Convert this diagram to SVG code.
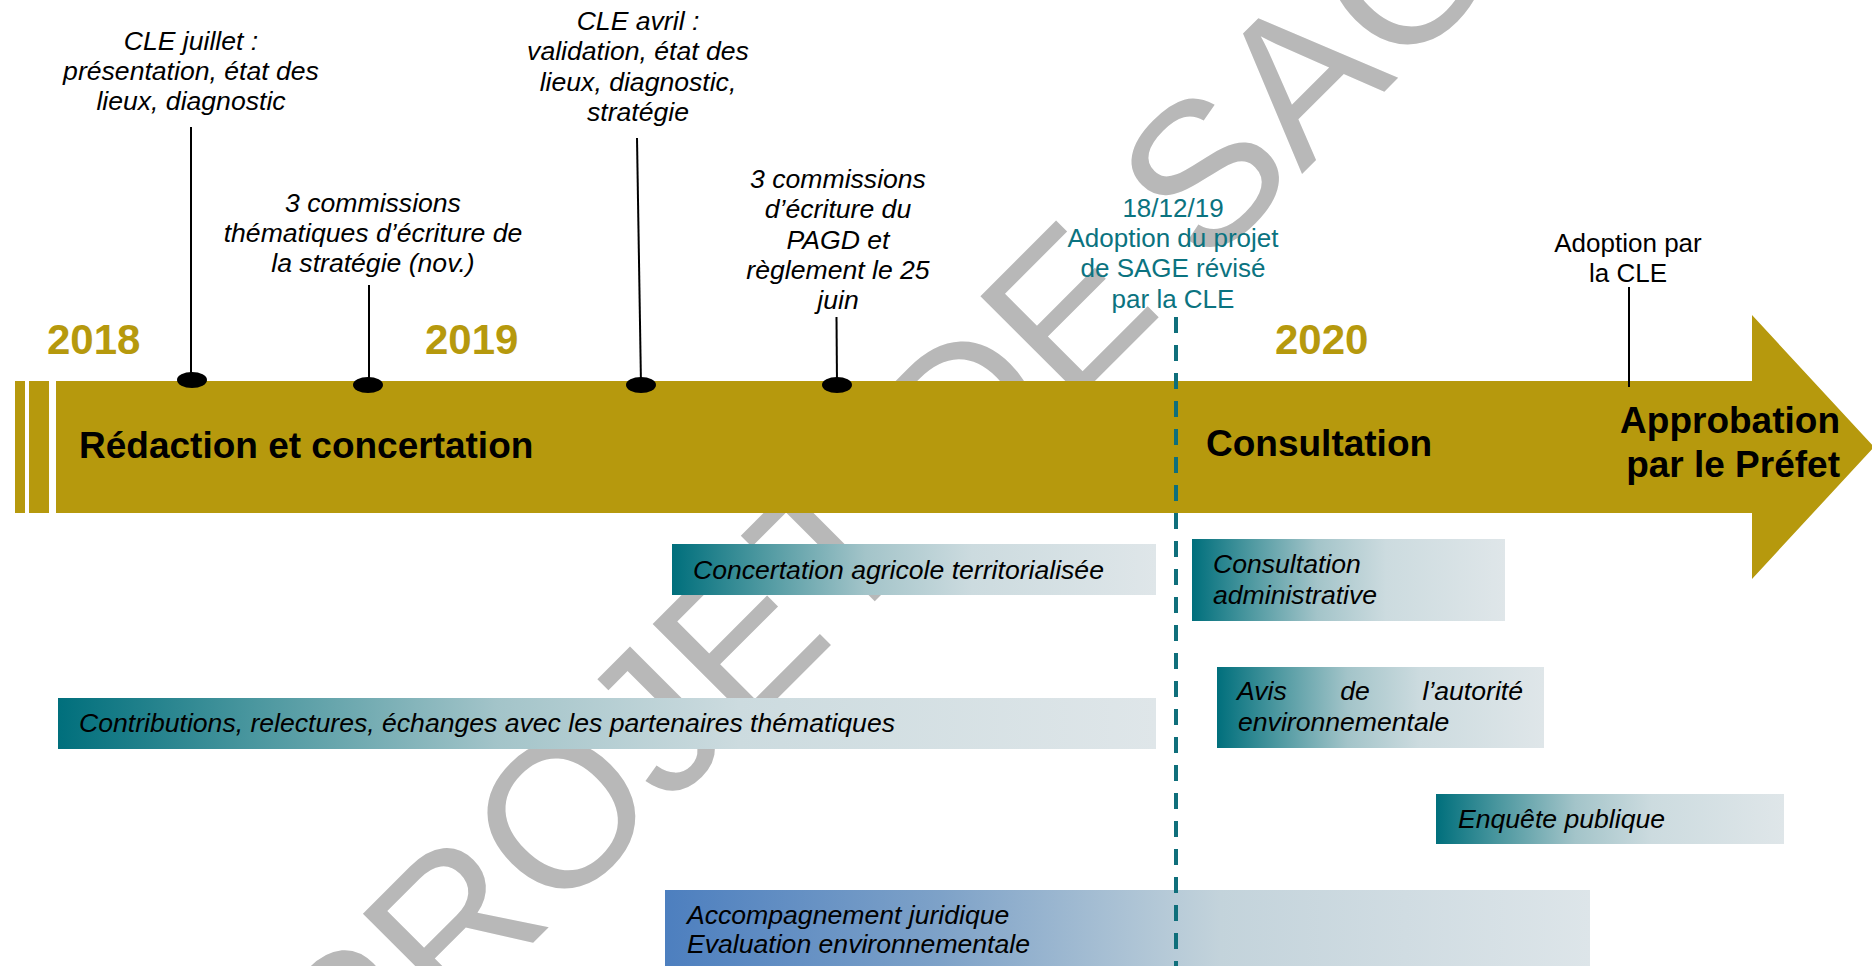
<svg xmlns="http://www.w3.org/2000/svg" width="1872" height="966" viewBox="0 0 1872 966">
<defs>
  <linearGradient id="gTeal" x1="0" y1="0" x2="1" y2="0">
    <stop offset="0" stop-color="#006f7c"/>
    <stop offset="0.18" stop-color="#4b979f"/>
    <stop offset="0.4" stop-color="#a3c4c9"/>
    <stop offset="0.62" stop-color="#ccdbdf"/>
    <stop offset="1" stop-color="#dfe6e9"/>
  </linearGradient>
  <linearGradient id="gBlue" x1="0" y1="0" x2="1" y2="0">
    <stop offset="0" stop-color="#4d7fbf"/>
    <stop offset="0.3" stop-color="#7ea2c8"/>
    <stop offset="0.6" stop-color="#c3d3db"/>
    <stop offset="1" stop-color="#dde5e9"/>
  </linearGradient>
  <style>
    .it { font-family: "Liberation Sans", Arial, sans-serif; font-style: italic; font-size: 26.6px; fill: #000; }
    .lbl { font-family: "Liberation Sans", Arial, sans-serif; font-style: italic; font-size: 26.6px; fill: #000; text-anchor: middle; }
    .teal { font-family: "Liberation Sans", Arial, sans-serif; font-size: 26px; fill: #0b7380; text-anchor: middle; }
    .reg { font-family: "Liberation Sans", Arial, sans-serif; font-size: 26px; fill: #000; text-anchor: middle; }
    .year { font-family: "Liberation Sans", Arial, sans-serif; font-weight: bold; font-size: 42px; fill: #b6990d; }
    .phase { font-family: "Liberation Sans", Arial, sans-serif; font-weight: bold; font-size: 37px; fill: #000; }
    .wm { font-family: "Liberation Sans", Arial, sans-serif; font-size: 205px; fill: #b8b8b8; }
    .stem { stroke: #000; stroke-width: 2; fill: none; }
    .dot { fill: #000; }
    .gold { fill: #b6990d; }
  </style>
</defs>
<rect width="1872" height="966" fill="#fff"/>

<g id="watermark">
  <text class="wm" transform="translate(354,1122) rotate(-45)">PROJET DE SAGE</text>
</g>

<g id="timeline">
  <rect class="gold" x="15" y="381" width="10" height="132"/>
  <rect class="gold" x="29" y="381" width="20" height="132"/>
  <polygon class="gold" points="56,381 1752,381 1752,315 1874,447 1752,579 1752,513 56,513"/>
  <text class="year" x="47" y="354">2018</text>
  <text class="year" x="425" y="354">2019</text>
  <text class="year" x="1275" y="354">2020</text>
  <text class="phase" x="79" y="458">Rédaction et concertation</text>
  <text class="phase" x="1206" y="456">Consultation</text>
  <text class="phase" x="1840" y="433" text-anchor="end">Approbation</text>
  <text class="phase" x="1840" y="477" text-anchor="end">par le Préfet</text>
</g>

<g id="box-concertation">
  <rect x="672" y="544" width="484" height="51" fill="url(#gTeal)"/>
  <text class="it" x="693" y="579">Concertation agricole territorialisée</text>
</g>
<g id="box-contributions">
  <rect x="58" y="698" width="1098" height="51" fill="url(#gTeal)"/>
  <text class="it" x="79" y="732">Contributions, relectures, échanges avec les partenaires thématiques</text>
</g>
<g id="box-consultation-admin">
  <rect x="1192" y="539" width="313" height="82" fill="url(#gTeal)"/>
  <text class="it" x="1213" y="573">Consultation</text>
  <text class="it" x="1213" y="604">administrative</text>
</g>
<g id="box-avis">
  <rect x="1217" y="667" width="327" height="81" fill="url(#gTeal)"/>
  <text class="it" x="1237" y="700">Avis</text>
  <text class="it" x="1355" y="700" text-anchor="middle">de</text>
  <text class="it" x="1523" y="700" text-anchor="end">l’autorité</text>
  <text class="it" x="1238" y="731">environnementale</text>
</g>
<g id="box-enquete">
  <rect x="1436" y="794" width="348" height="50" fill="url(#gTeal)"/>
  <text class="it" x="1458" y="828">Enquête publique</text>
</g>
<g id="box-accompagnement">
  <rect x="665" y="890" width="925" height="80" fill="url(#gBlue)"/>
  <text class="it" x="687" y="924">Accompagnement juridique</text>
  <text class="it" x="687" y="953">Evaluation environnementale</text>
</g>

<g id="connectors">
  <line class="stem" x1="191" y1="127" x2="191" y2="380"/>
  <line class="stem" x1="369" y1="285" x2="369" y2="385"/>
  <line class="stem" x1="637" y1="138" x2="641" y2="385"/>
  <line class="stem" x1="836.5" y1="317" x2="837" y2="385"/>
  <line class="stem" x1="1629" y1="287" x2="1629" y2="387"/>
  <line x1="1176" y1="317" x2="1176" y2="966" stroke="#0f6f7b" stroke-width="4" stroke-dasharray="16 12"/>
</g>

<g id="event-cle-juillet">
  <ellipse class="dot" cx="192" cy="380" rx="15" ry="8"/>
  <text class="lbl" x="191" y="50">CLE juillet :</text>
  <text class="lbl" x="191" y="80">présentation, état des</text>
  <text class="lbl" x="191" y="110">lieux, diagnostic</text>
</g>
<g id="event-commissions-strategie">
  <ellipse class="dot" cx="368" cy="385" rx="15" ry="8"/>
  <text class="lbl" x="373" y="212">3 commissions</text>
  <text class="lbl" x="373" y="242">thématiques d’écriture de</text>
  <text class="lbl" x="373" y="272">la stratégie (nov.)</text>
</g>
<g id="event-cle-avril">
  <ellipse class="dot" cx="641" cy="385" rx="15" ry="8"/>
  <text class="lbl" x="638" y="30">CLE avril :</text>
  <text class="lbl" x="638" y="60">validation, état des</text>
  <text class="lbl" x="638" y="91">lieux, diagnostic,</text>
  <text class="lbl" x="638" y="121">stratégie</text>
</g>
<g id="event-commissions-pagd">
  <ellipse class="dot" cx="837" cy="385" rx="15" ry="8"/>
  <text class="lbl" x="838" y="188">3 commissions</text>
  <text class="lbl" x="838" y="218">d’écriture du</text>
  <text class="lbl" x="838" y="249">PAGD et</text>
  <text class="lbl" x="838" y="279">règlement le 25</text>
  <text class="lbl" x="838" y="309">juin</text>
</g>
<g id="event-adoption-projet">
  <text class="teal" x="1173" y="217">18/12/19</text>
  <text class="teal" x="1173" y="247">Adoption du projet</text>
  <text class="teal" x="1173" y="277">de SAGE révisé</text>
  <text class="teal" x="1173" y="308">par la CLE</text>
</g>
<g id="event-adoption-cle">
  <text class="reg" x="1628" y="252">Adoption par</text>
  <text class="reg" x="1628" y="282">la CLE</text>
</g>
</svg>
